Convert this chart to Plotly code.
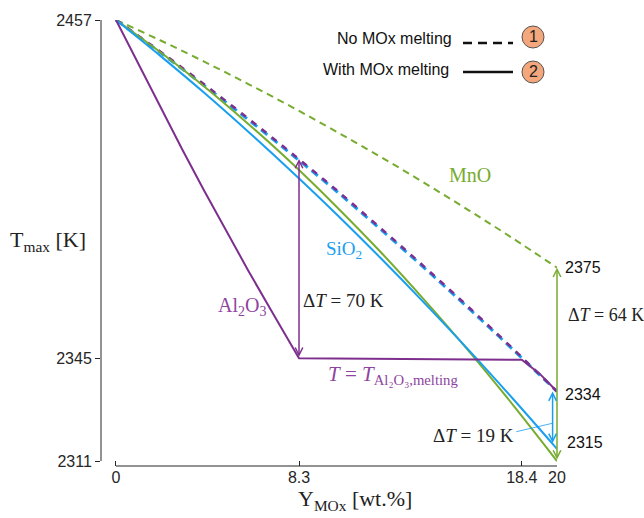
import plotly.graph_objects as go

# ---------------- data ----------------
x_grid = [0, 2, 4, 6, 8, 10, 12, 14, 16, 18, 20]
mno_no_melt = [2457, 2450.3, 2443.2, 2435.8, 2428.1, 2420.0, 2411.7, 2403.0, 2394.0, 2384.7, 2375]
mno_melt = [2457, 2446.4, 2435.0, 2422.6, 2409.4, 2395.2, 2380.2, 2364.2, 2347.4, 2329.6, 2311]
sio2_no_melt = [2457, 2446.3, 2435.3, 2424.0, 2412.3, 2400.3, 2387.7, 2374.8, 2361.5, 2347.9, 2334]
sio2_melt = [2457, 2445.2, 2432.9, 2420.0, 2406.6, 2392.7, 2378.2, 2363.2, 2347.7, 2331.6, 2315]
al2o3_no_melt = [2457, 2446.6, 2435.7, 2424.4, 2412.7, 2400.7, 2388.1, 2375.2, 2361.9, 2348.2, 2334]
al2o3_melt_x = [0, 1, 2, 3, 4, 5, 6, 7, 8.3, 18.4, 19.2, 20]
al2o3_melt = [2457, 2442.6, 2428.3, 2414.2, 2400.5, 2387.1, 2374.0, 2361.3, 2345, 2344.5, 2340, 2334]

x_ticks = [0, 8.3, 18.4, 20]
x_tick_labels = ["0", "8.3", "18.4", "20"]
y_ticks = [2311, 2345, 2457]
y_tick_labels = ["2311", "2345", "2457"]

al2o3_arrow_x = 8.3
al2o3_arrow_top = 2411
sio2_arrow_x = 19.8

GREEN = "#77AC30"
BLUE = "#1A9FF0"
PURPLE = "#7E2F8E"
PURPLE_TXT = "#8E44A0"
AX = "#262626"
SANS = "Liberation Sans, Arial, sans-serif"
SERIF = "Liberation Serif, Times New Roman, serif"

W, H = 644, 518
# plot area: y axis line at x=101 px, data x=0 at 116 px; x axis line at y=466 px, T=2311 at 461 px
X_DOM = [101 / W, 557 / W]
Y_DOM = [1 - 466 / H, 1 - 20 / H]
X_RANGE = [-0.68, 20]
Y_RANGE = [2309.35, 2457]


def px(v):
    return v / W


def py(v):
    return 1 - v / H


def xd(v):  # data x -> paper
    return X_DOM[0] + (v - X_RANGE[0]) / (X_RANGE[1] - X_RANGE[0]) * (X_DOM[1] - X_DOM[0])


def yd(v):  # data y -> paper
    return Y_DOM[0] + (v - Y_RANGE[0]) / (Y_RANGE[1] - Y_RANGE[0]) * (Y_DOM[1] - Y_DOM[0])


fig = go.Figure()


def add_line(x, y, color, width, dash="solid", shape="linear"):
    fig.add_trace(go.Scatter(x=x, y=y, mode="lines", cliponaxis=False,
                             line=dict(color=color, width=width, dash=dash, shape=shape),
                             hoverinfo="skip"))


add_line(x_grid, mno_no_melt, GREEN, 2, "7px,5px", "spline")
add_line(x_grid, sio2_no_melt, BLUE, 3, "8px,5px", "spline")
add_line(x_grid, al2o3_no_melt, PURPLE, 2.5, "6px,7px", "spline")
add_line(x_grid, mno_melt, GREEN, 2, "solid", "spline")
add_line(x_grid, sio2_melt, BLUE, 2, "solid", "spline")
add_line(al2o3_melt_x, al2o3_melt, PURPLE, 2, "solid", "linear")

annotations = []


def arrow(x, y0, y1, color):
    annotations.append(dict(x=x, y=y1, ax=x, ay=y0, xref="x", yref="y", axref="x", ayref="y",
                            text="", showarrow=True, arrowhead=5, startarrowhead=5,
                            arrowside="end+start", arrowsize=1.0, arrowwidth=1.5,
                            arrowcolor=color, standoff=0, startstandoff=0))


arrow(al2o3_arrow_x, al2o3_melt[8], al2o3_arrow_top, PURPLE)
arrow(x_grid[-1], mno_melt[-1], mno_no_melt[-1], GREEN)
arrow(sio2_arrow_x, sio2_melt[-1] + 1.5, sio2_no_melt[-1], BLUE)


def text(x, y, t, color="#222", size=17, font=SERIF, xanchor="center", data=True):
    if data:
        x, y = xd(x), yd(y)
    annotations.append(dict(x=x, y=y, text=t, showarrow=False, xref="paper", yref="paper",
                            xanchor=xanchor, yanchor="middle",
                            font=dict(family=font, size=size, color=color)))


text(8.4, 2364.3, "Δ<i>T</i> = 70 K", size=19, xanchor="left")
text(10.36, 2380.9, "SiO<sub>2</sub>", BLUE, 19)
text(16.05, 2405.7, "MnO", GREEN, 20)
text(5.71, 2362.3, "Al<sub>2</sub>O<sub>3</sub>", PURPLE_TXT, 20)
text(12.56, 2339.5, "<i>T</i> = <i>T</i><sub>Al₂O₃,melting</sub>", PURPLE_TXT, size=21)
text(18.15, 2319.6, "Δ<i>T</i> = 19 K", size=19, xanchor="right")
text(20.41, 2359.4, "Δ<i>T</i> = 64 K", size=18, xanchor="left")
text(20.27, 2375, "2375", "#111", 16, SANS, "left")
text(20.27, 2333, "2334", "#111", 16, SANS, "left")
text(20.35, 2317, "2315", "#111", 16, SANS, "left")

# axis titles
text(px(355), py(500), "Y<sub>MOx</sub> [wt.%]", "#222", 22, SERIF, "center", False)
text(px(48), py(241), "T<sub>max</sub> [K]", "#222", 22, SERIF, "center", False)

# legend
text(px(454), py(39), "No MOx melting", "#111", 16, SANS, "right", False)
text(px(451), py(70), "With MOx melting", "#111", 16, SANS, "right", False)
text(px(533), py(37), "1", "#222", 16, SANS, "center", False)
text(px(533), py(72), "2", "#222", 16, SANS, "center", False)

shapes = [
    # axis lines (MATLAB-style offset axes)
    dict(type="line", xref="x domain", yref="y", x0=0, x1=0, y0=y_ticks[0], y1=y_ticks[-1],
         line=dict(color=AX, width=1)),
    dict(type="line", xref="x", yref="y domain", x0=x_ticks[0], x1=x_ticks[-1], y0=0, y1=0,
         line=dict(color=AX, width=1)),
    # legend
    dict(type="line", xref="paper", yref="paper", x0=px(463), x1=px(513), y0=py(43), y1=py(43),
         line=dict(color="#111", width=2.5, dash="9px,6px")),
    dict(type="line", xref="paper", yref="paper", x0=px(463), x1=px(513), y0=py(72), y1=py(72),
         line=dict(color="#111", width=2.5)),
    dict(type="circle", xref="paper", yref="paper", x0=px(522), x1=px(544), y0=py(48), y1=py(26),
         fillcolor="#F4A77C", line=dict(color="#555", width=1), layer="below"),
    dict(type="circle", xref="paper", yref="paper", x0=px(522), x1=px(544), y0=py(83), y1=py(61),
         fillcolor="#F4A77C", line=dict(color="#555", width=1), layer="below"),
    # leader line for the 19 K label
    dict(type="line", xref="paper", yref="paper", x0=xd(18.15), y0=yd(2320.7), x1=xd(19.8), y1=yd(2323.5),
         line=dict(color=BLUE, width=0.8)),
]

fig.update_layout(
    width=W, height=H, margin=dict(l=0, r=0, t=0, b=0),
    paper_bgcolor="white", plot_bgcolor="white", showlegend=False,
    annotations=annotations, shapes=shapes,
    xaxis=dict(domain=X_DOM, range=X_RANGE, showline=False, ticks="inside", ticklen=5,
               tickcolor=AX, tickvals=x_ticks, ticktext=x_tick_labels,
               tickfont=dict(family=SANS, size=16, color=AX), showgrid=False, zeroline=False,
               automargin=False),
    yaxis=dict(domain=Y_DOM, range=Y_RANGE, showline=False, ticks="outside", ticklen=5,
               tickcolor=AX, tickvals=y_ticks, ticktext=y_tick_labels,
               tickfont=dict(family=SANS, size=16, color=AX), showgrid=False, zeroline=False,
               automargin=False),
)

fig.write_html("out.html")
